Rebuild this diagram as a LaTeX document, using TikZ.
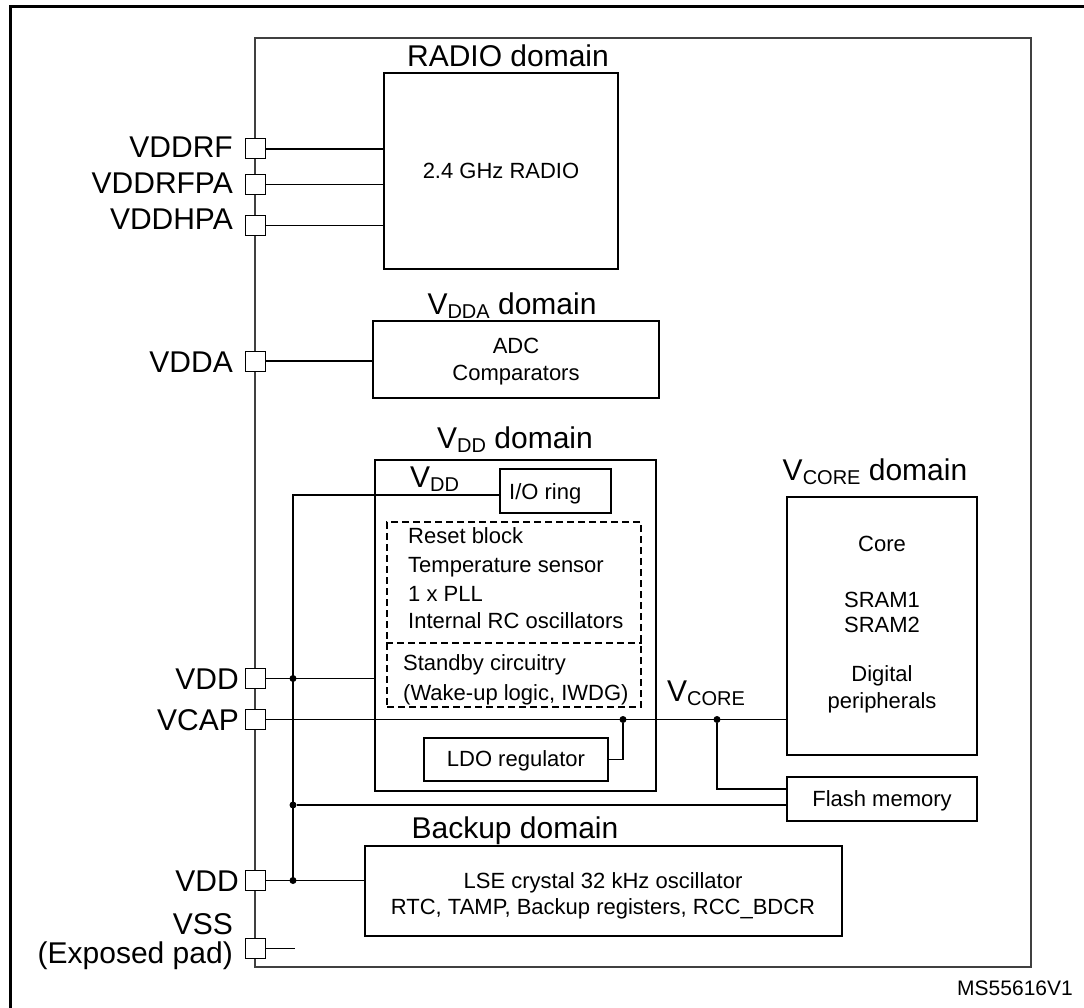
\documentclass[tikz,border=0pt]{standalone}
\usepackage{fontspec}
\setmainfont{Liberation Sans}
\usetikzlibrary{fit}
\newcommand\bigf{\fontsize{30}{34}\selectfont}
\newcommand\smallf{\fontsize{22}{26}\selectfont}
\newcommand\Vsub[1]{V\raisebox{-4pt}{\fontsize{20}{22}\selectfont #1}}
\begin{document}
\begin{tikzpicture}[x=1pt,y=-1pt,
  box/.style={draw, line width=1.3pt, inner sep=0pt},
  dbox/.style={draw, dashed, dash pattern=on 7pt off 4pt, line width=1.2pt, inner sep=0pt},
  pad/.style={draw, fill=white, minimum size=20pt, inner sep=0pt, line width=1pt},
  wire/.style={line width=1.3pt},
  dot/.style={circle, fill=black, inner sep=0pt, minimum size=7pt},
  big/.style={font=\bigf, inner sep=0pt},
  small/.style={font=\smallf, inner sep=0pt}]
\useasboundingbox (0,0) rectangle (1084,1008);
\fill[white] (0,0) rectangle (1084,1008);
% outer frame
\draw[line width=3pt] (10,1015) -- (10,7) -- (1095,7);
% chip boundary
\node[box, draw=black!75, line width=2pt, fit={(255,38) (1031,967)}] (chip) {};
% domain boxes
\node[box, fit={(384,73) (618,269)}] (radio) {};
\node[box, fit={(373,321) (659,398)}] (vdda) {};
\node[box, fit={(375,460) (656,791)}] (vddbox) {};
\node[box, fit={(500,469) (611,513)}] (io) {};
\node[dbox, fit={(387,522) (641,707)}] (dash) {};
\node[box, fit={(424,738) (608,781)}] (ldo) {};
\node[box, fit={(787,497) (977,755)}] (core) {};
\node[box, fit={(787,777) (977,821)}] (flash) {};
\node[box, fit={(365,846) (842,936)}] (backup) {};
\draw[dash pattern=on 7pt off 4pt, line width=1.2pt] (dash.west |- 0,643) -- (dash.east |- 0,643);
% pads
\node[pad] (pRF) at (255,149) {};
\node[pad] (pRFPA) at (255,184.5) {};
\node[pad] (pHPA) at (255,225.5) {};
\node[pad] (pA) at (255,361) {};
\node[pad] (pD1) at (255,678.5) {};
\node[pad] (pCap) at (255,719.5) {};
\node[pad] (pD2) at (255,880.5) {};
\node[pad] (pSS) at (255,948.5) {};
% pad labels
\node[big, anchor=base east] (lRF) at (233,158) {VDDRF};
\node[big, anchor=base east] (lRFPA) at (233,194) {VDDRFPA};
\node[big, anchor=base east] (lHPA) at (233,230) {VDDHPA};
\node[big, anchor=base east] (lA) at (233,372) {VDDA};
\node[big, anchor=base east] (lD1) at (239,689) {VDD};
\node[big, anchor=base east] (lCap) at (239,730) {VCAP};
\node[big, anchor=base east] (lD2) at (239,891) {VDD};
\node[big, anchor=base east, text depth=0pt] (lSS) at (233,934) {VSS};
\node[big, anchor=base east] (lEx) at (233,963) {(Exposed pad)};
% wires from pads
\draw[wire] (pRF.east) -- (pRF.east -| radio.west);
\draw[wire] (pRFPA.east) -- (pRFPA.east -| radio.west);
\draw[wire] (pHPA.east) -- (pHPA.east -| radio.west);
\draw[wire] (pA.east) -- (pA.east -| vdda.west);
\draw[wire] (pD1.east) -- (pD1.east -| vddbox.west);
\draw[wire] (pCap.east) -- (pCap.east -| core.west);
\draw[wire] (pD2.east) -- (pD2.east -| backup.west);
\coordinate (vssend) at (295,948.5);
\draw[wire] (pSS.east) -- (vssend);
% VDD bus
\coordinate (bt) at (293,495);
\coordinate (bb) at (293,880.5);
\draw[wire] (io.west |- bt) -- (bt) -- (bb);
\node[dot] (d1) at (bt |- pD1) {};
\node[dot] (d2) at (bb) {};
\node[dot] (d3) at (293,805) {};
\draw[wire] (d3) -- (d3 -| flash.west);
% VCORE branches
\node[dot] (d4) at (717,719.5) {};
\coordinate (fk) at (717,789);
\draw[wire] (d4) -- (fk) -- (fk -| flash.west);
\node[dot] (d5) at (623,719.5) {};
\draw[wire] (ldo.east) -- (ldo.east -| d5) -- (d5);
% texts
\node[big, anchor=base] (tRadio) at (508,67) {RADIO domain};
\node[small, anchor=base] (tRadioIn) at (501,179) {2.4 GHz RADIO};
\node[big, anchor=base] (tVdda) at (512,315) {\Vsub{DDA} domain};
\node[small, anchor=base] (tAdc) at (516,353) {ADC};
\node[small, anchor=base] (tComp) at (516,380) {Comparators};
\node[big, anchor=base] (tVdd) at (515,448) {\Vsub{DD} domain};
\node[big, anchor=base west] (tVddIn) at (410,487) {\Vsub{DD}};
\node[small, anchor=base west] (tIo) at (509,499) {I/O ring};
\node[small, anchor=base west] (t1) at (408,543) {Reset block};
\node[small, anchor=base west] (t2) at (408,572.7) {Temperature sensor};
\node[small, anchor=base west] (t3) at (408,601.7) {1 x PLL};
\node[small, anchor=base west] (t4) at (408,628.3) {Internal RC oscillators};
\node[small, anchor=base west] (t5) at (403,670) {Standby circuitry};
\node[small, anchor=base west] (t6) at (403,700) {(Wake-up logic, IWDG)};
\node[small, anchor=base] (tLdo) at (516,766) {LDO regulator};
\node[big, anchor=base west] (tVcore) at (667,701.7) {\Vsub{CORE}};
\node[big, anchor=base] (tCoreD) at (875,480) {\Vsub{CORE} domain};
\node[small, anchor=base] (tCore) at (882,551) {Core};
\node[small, anchor=base] (tS1) at (882,607) {SRAM1};
\node[small, anchor=base] (tS2) at (882,632) {SRAM2};
\node[small, anchor=base] (tDig) at (882,681.7) {Digital};
\node[small, anchor=base] (tPer) at (882,708) {peripherals};
\node[small, anchor=base] (tFlash) at (882,806.7) {Flash memory};
\node[big, anchor=base] (tBack) at (515,838) {Backup domain};
\node[small, anchor=base] (tLse) at (603,888) {LSE crystal 32 kHz oscillator};
\node[small, anchor=base] (tRtc) at (603,914) {RTC, TAMP, Backup registers, RCC\_BDCR};
\node[font=\fontsize{21}{24}\selectfont, inner sep=0pt, anchor=base east] (tId) at (1073,995) {MS55616V1};
\end{tikzpicture}
\end{document}
